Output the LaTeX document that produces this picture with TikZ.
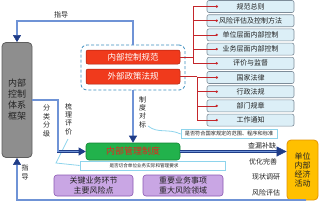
\documentclass[tikz,border=0pt]{standalone}
\usepackage{fontspec}
\setmainfont{Noto Sans CJK SC}
\usetikzlibrary{arrows.meta}
\definecolor{navy}{HTML}{1F3C88}
\definecolor{blueM}{HTML}{6F93D6}
\definecolor{grayF}{HTML}{8E8E8E}
\definecolor{grayD}{HTML}{5E5E5E}
\definecolor{redF}{HTML}{F03A1C}
\definecolor{redD}{HTML}{A8200E}
\definecolor{redL}{HTML}{C4262B}
\definecolor{listF}{HTML}{DCEFF7}
\definecolor{listD}{HTML}{7D8C99}
\definecolor{dashC}{HTML}{3C8EBF}
\definecolor{cyanL}{HTML}{8ED4EC}
\definecolor{greenF}{HTML}{22B24C}
\definecolor{greenD}{HTML}{118433}
\definecolor{greenT}{HTML}{E8231E}
\definecolor{purF}{HTML}{C9A6E4}
\definecolor{purD}{HTML}{8A58B2}
\definecolor{yelF}{HTML}{FFC000}
\definecolor{yelD}{HTML}{E39400}
\definecolor{txt}{HTML}{222222}
\tikzset{
  graybox/.style={draw=grayD, fill=grayF, rounded corners=4pt, line width=0.8pt, minimum width=30pt, minimum height=115pt, inner sep=0, align=center, font=\fontsize{9}{11}\selectfont, text=txt},
  holder/.style={draw=dashC, dash pattern=on 3pt off 2pt, line width=0.8pt, rounded corners=6pt, minimum width=104pt, minimum height=45pt, inner sep=0},
  redbox/.style={draw=redD, fill=redF, rounded corners=2pt, line width=0.5pt, minimum width=94pt, minimum height=14pt, inner sep=0, text=white, font=\fontsize{8.5}{10}\selectfont},
  listbox/.style={draw=listD, fill=listF, rounded corners=2pt, line width=0.6pt, minimum width=87pt, minimum height=12pt, inner sep=0, text=txt, font=\fontsize{7}{8}\selectfont},
  callbox/.style={draw=cyanL, fill=white, line width=0.7pt, minimum height=9pt, inner sep=0, text=txt, font=\fontsize{5.2}{6}\selectfont},
  greenbox/.style={draw=greenD, fill=greenF, rounded corners=3pt, line width=0.6pt, minimum width=94pt, minimum height=17pt, inner sep=0, text=greenT, font=\fontsize{9}{10}\selectfont},
  purbox/.style={draw=purD, fill=purF, rounded corners=3pt, line width=0.6pt, minimum height=21pt, inner sep=0, align=center, text=txt, font=\fontsize{8}{9.5}\selectfont},
  yelbox/.style={draw=yelD, fill=yelF, rounded corners=4pt, line width=0.8pt, minimum width=31pt, minimum height=60pt, inner sep=0, align=center, text=txt, font=\fontsize{8}{9}\selectfont},
  flow/.style={draw=navy, line width=0.6pt, double=blueM, double distance=1.2pt},
  arr/.style={flow, -{Triangle[length=7pt,width=8pt]}},
  bigarr/.style={flow, -{Triangle[length=10pt,width=10pt]}},
  redline/.style={draw=redL, line width=0.7pt},
  rdot/.style={circle, fill=redL, inner sep=0, minimum size=2.6pt},
  lab/.style={font=\fontsize{7}{8.4}\selectfont, align=center, text=txt, inner sep=0},
  calline/.style={draw=cyanL, line width=0.8pt}
}
\begin{document}
\begin{tikzpicture}[x=1pt,y=-1pt]
\useasboundingbox (0,0) rectangle (320,204);
% main nodes
\node[graybox] (gray) at (17,100) {内部\\控制\\体系\\框架};
\node[holder] (ctr) at (133,67.5) {};
\node[redbox] (r1) at (133,57) {内部控制规范};
\node[redbox, minimum height=15pt] (r2) at (133,76.5) {外部政策法规};
% list
\node[listbox] (l1) at (250.5,6.5) {规范总则};
\node[listbox] (l2) at (250.5,20.7) {风险评估及控制方法};
\node[listbox] (l3) at (250.5,34.9) {单位层面内部控制};
\node[listbox] (l4) at (250.5,49.1) {业务层面内部控制};
\node[listbox] (l5) at (250.5,63.3) {评价与监督};
\node[listbox] (l6) at (250.5,77.5) {国家法律};
\node[listbox] (l7) at (250.5,91.7) {行政法规};
\node[listbox] (l8) at (250.5,105.9) {部门规章};
\node[listbox] (l9) at (250.5,120.1) {工作通知};
% red connectors
\coordinate (j1) at (193,0);
\coordinate (j2) at (197,0);
\draw[redline] (r1.east) -- (j1 |- r1.east);
\draw[redline] (j1 |- l1.west) -- (j1 |- l5.west);
\foreach \i in {1,...,5}{
  \draw[redline] (j1 |- l\i.west) -- ([xshift=10pt]l\i.west) node[rdot]{};
}
\draw[redline] (r2.east) -- (j2 |- r2.east);
\draw[redline] (j2 |- r2.east) -- (j2 |- l9.west);
\foreach \i in {6,...,9}{
  \draw[redline] (j2 |- l\i.west) -- ([xshift=10pt]l\i.west) node[rdot]{};
}
% lower nodes
\node[greenbox] (grn) at (133,151.5) {内部管理制度};
\node[callbox, minimum width=145pt, font=\fontsize{4.6}{5.5}\selectfont] (c1) at (152.5,165.5) {\hspace*{-17pt}是否切合单位业务实际和管理要求};
\node[callbox, minimum width=96pt] (c2) at (229,134) {是否符合国家规定的范围、程序和标准};
\node[purbox, minimum width=79pt] (p1) at (93.5,185.5) {关键业务环节\\主要风险点};
\node[purbox, minimum width=80pt] (p2) at (183,185.5) {重要业务事项\\重大风险领域};
\node[yelbox] (yel) at (302.5,170) {单位\\内部\\经济\\活动};
% callout lines
\coordinate (k1) at (68,139);
\coordinate (k2) at (56,163);
\draw[calline] (k1) -- (k2) -- (c1.west);
\coordinate (k3) at (148,126);
\draw[calline] (k3) .. controls (158,134) and (168,128) .. (c2.west);
% labels
\node[lab] (t1) at (61,15) {指导};
\node[lab] (t2) at (25,172.5) {指\\导};
\node[lab] (t3) at (46.5,121) {分\\类\\分\\级};
\node[lab] (t4) at (68.5,119) {梳\\理\\评\\价};
\node[lab] (t5) at (142.5,112) {制\\度\\对\\标};
\node[lab] (t6) at (262,146) {查漏补缺};
\node[lab] (t7) at (263,162) {优化完善};
\node[lab] (t8) at (266,176.5) {现状调研};
\node[lab] (t9) at (266,193) {风险评估};
% flows
\coordinate (lb) at (58,100);
\coordinate (tp) at (17,21);
\coordinate (br) at (306,200);
\draw[arr] (ctr.north) |- (tp) -- (gray.north);
\draw[arr] (ctr.south) -- (grn.north);
\draw[arr] (gray.east |- lb) -- (lb) |- (grn.west);
\draw[bigarr] (grn.east) -- (grn.east -| yel.west);
\draw[arr] (br) -- (gray.south |- br) -- (gray.south);
\end{tikzpicture}
\end{document}
